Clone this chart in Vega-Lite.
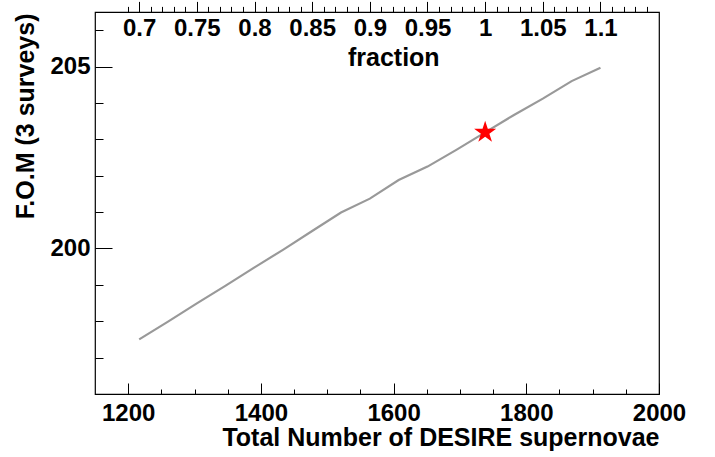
{
  "$schema": "https://vega.github.io/schema/vega-lite/v6.json",
  "width": 564,
  "height": 382,
  "autosize": "none",
  "padding": {"left": 95, "top": 12, "right": 56, "bottom": 63},
  "background": "white",
  "config": {
    "view": {"stroke": "#000000", "strokeWidth": 1.2},
    "font": "Liberation Sans",
    "axis": {
      "domain": false,
      "grid": false,
      "tickColor": "#000000",
      "tickWidth": 1,
      "labelFont": "Liberation Sans",
      "labelFontWeight": "bold",
      "labelFontSize": 24,
      "labelColor": "#000000",
      "labelFlush": false,
      "labelOverlap": false,
      "labelBound": false,
      "titleFont": "Liberation Sans",
      "titleFontWeight": "bold",
      "titleFontSize": 25,
      "titleColor": "#000000"
    }
  },
  "datasets": {
    "curve": [
      {"fraction": 0.7, "N": 1216.6, "F": 197.50},
      {"fraction": 0.725, "N": 1260.05, "F": 197.99},
      {"fraction": 0.75, "N": 1303.5, "F": 198.49},
      {"fraction": 0.775, "N": 1346.95, "F": 198.98},
      {"fraction": 0.8, "N": 1390.4, "F": 199.48},
      {"fraction": 0.825, "N": 1433.85, "F": 199.97},
      {"fraction": 0.85, "N": 1477.3, "F": 200.48},
      {"fraction": 0.875, "N": 1520.75, "F": 200.99},
      {"fraction": 0.9, "N": 1564.2, "F": 201.37},
      {"fraction": 0.925, "N": 1607.65, "F": 201.88},
      {"fraction": 0.95, "N": 1651.1, "F": 202.25},
      {"fraction": 0.975, "N": 1694.55, "F": 202.71},
      {"fraction": 1.0, "N": 1738.0, "F": 203.19},
      {"fraction": 1.025, "N": 1781.45, "F": 203.67},
      {"fraction": 1.05, "N": 1824.9, "F": 204.12},
      {"fraction": 1.075, "N": 1868.35, "F": 204.60},
      {"fraction": 1.1, "N": 1911.8, "F": 204.97}
    ],
    "nominal": [
      {"N": 1738.0, "F": 203.19}
    ]
  },
  "layer": [
    {
      "data": {"name": "curve"},
      "mark": {"type": "line", "color": "#999999", "strokeWidth": 2.2},
      "encoding": {
        "x": {
          "field": "N", "type": "quantitative",
          "scale": {"domain": [1150, 2000], "nice": false, "zero": false},
          "axis": {
            "orient": "bottom",
            "values": [1200, 1400, 1600, 1800, 2000],
            "format": "d",
            "tickSize": -11,
            "labelPadding": 18,
            "labelBaseline": "top",
            "title": "Total Number of DESIRE supernovae",
            "titleX": 564, "titleY": 51,
            "titleAlign": "right", "titleAnchor": null,
            "titleBaseline": "alphabetic"
          }
        },
        "y": {
          "field": "F", "type": "quantitative",
          "scale": {"domain": [196, 206.5], "nice": false, "zero": false},
          "axis": {
            "orient": "left",
            "values": [200, 205],
            "format": "d",
            "tickSize": -17,
            "labelPadding": 22,
            "labelBaseline": "middle",
            "title": "F.O.M (3 surveys)",
            "titleX": -61.5, "titleY": 1,
            "titleAngle": 270,
            "titleAlign": "right", "titleAnchor": null,
            "titleBaseline": "alphabetic"
          }
        }
      }
    },
    {
      "data": {"name": "nominal"},
      "mark": {
        "type": "point",
        "shape": "M0,-1 L0.225,-0.309 L0.951,-0.309 L0.363,0.118 L0.588,0.809 L0,0.382 L-0.588,0.809 L-0.363,0.118 L-0.951,-0.309 L-0.225,-0.309 Z",
        "filled": true,
        "color": "#ff0000",
        "opacity": 1,
        "size": 540
      },
      "encoding": {
        "x": {
          "field": "N", "type": "quantitative",
          "scale": {"domain": [1150, 2000], "nice": false, "zero": false},
          "axis": {
            "orient": "bottom",
            "values": [1250, 1300, 1350, 1450, 1500, 1550, 1650, 1700, 1750, 1850, 1900, 1950],
            "tickSize": -5,
            "labels": false,
            "title": null
          }
        },
        "y": {
          "field": "F", "type": "quantitative",
          "scale": {"domain": [196, 206.5], "nice": false, "zero": false},
          "axis": {
            "orient": "left",
            "values": [197, 198, 199, 201, 202, 203, 204, 206],
            "tickSize": -8,
            "labels": false,
            "title": null
          }
        }
      }
    },
    {
      "data": {"name": "curve"},
      "mark": {"type": "point", "opacity": 0},
      "encoding": {
        "x": {
          "field": "N", "type": "quantitative",
          "scale": {"domain": [1150, 2000], "nice": false, "zero": false},
          "axis": {
            "orient": "top",
            "values": [1216.6, 1303.5, 1390.4, 1477.3, 1564.2, 1651.1, 1738, 1824.9, 1911.8],
            "labelExpr": "format(datum.value / 1738, '.2~f')",
            "tickSize": 10.6,
            "labelPadding": -34,
            "labelBaseline": "alphabetic",
            "title": "fraction",
            "titleX": 298.3, "titleY": 53.4,
            "titleAlign": "center", "titleAnchor": null,
            "titleAngle": 0,
            "titleBaseline": "alphabetic"
          }
        },
        "y": {
          "field": "F", "type": "quantitative",
          "scale": {"domain": [196, 206.5], "nice": false, "zero": false},
          "axis": null
        }
      }
    },
    {
      "data": {"name": "curve"},
      "mark": {"type": "point", "opacity": 0},
      "encoding": {
        "x": {
          "field": "N", "type": "quantitative",
          "scale": {"domain": [1150, 2000], "nice": false, "zero": false},
          "axis": {
            "orient": "top",
            "values": [1199.22, 1233.98, 1251.36, 1268.74, 1286.12, 1320.88, 1338.26, 1355.64, 1373.02, 1407.78, 1425.16, 1442.54, 1459.92, 1494.68, 1512.06, 1529.44, 1546.82, 1581.58, 1598.96, 1616.34, 1633.72, 1668.48, 1685.86, 1703.24, 1720.62, 1755.38, 1772.76, 1790.14, 1807.52, 1842.28, 1859.66, 1877.04, 1894.42, 1929.18, 1946.56, 1963.94, 1981.32],
            "tickSize": 5.6,
            "labels": false,
            "title": null
          }
        },
        "y": {
          "field": "F", "type": "quantitative",
          "scale": {"domain": [196, 206.5], "nice": false, "zero": false},
          "axis": null
        }
      }
    }
  ],
  "resolve": {"axis": {"x": "independent", "y": "independent"}}
}
